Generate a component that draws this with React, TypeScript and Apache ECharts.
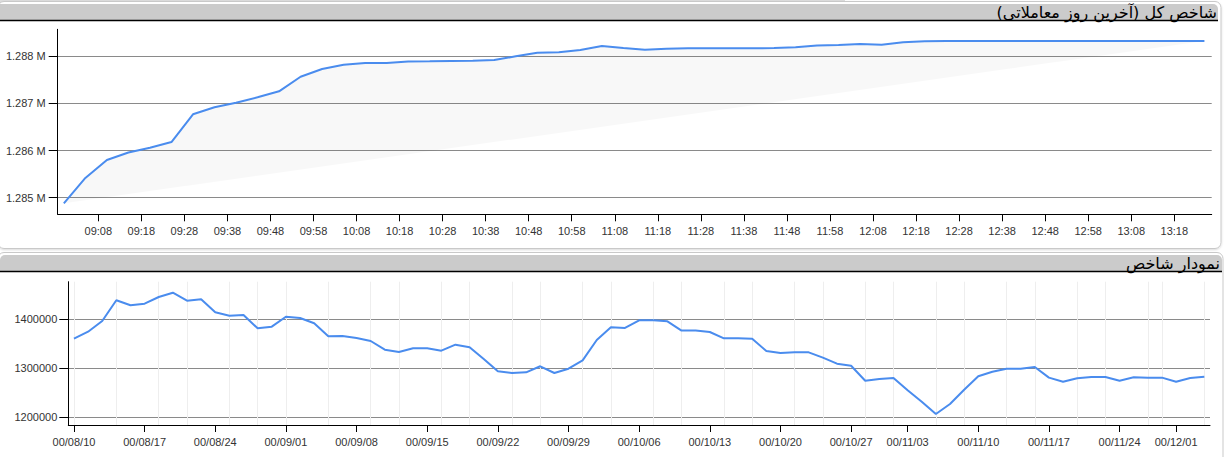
import React, { useEffect, useRef } from "react";
import * as echarts from "echarts";

// ---- Top chart: last trading day (intraday, every 5 minutes) ----
const intradayTimes = [
  "09:00", "09:05", "09:10", "09:15", "09:20", "09:25", "09:30", "09:35", "09:40", "09:45", "09:50", "09:55",
  "10:00", "10:05", "10:10", "10:15", "10:20", "10:25", "10:30", "10:35", "10:40", "10:45", "10:50", "10:55",
  "11:00", "11:05", "11:10", "11:15", "11:20", "11:25", "11:30", "11:35", "11:40", "11:45", "11:50", "11:55",
  "12:00", "12:05", "12:10", "12:15", "12:20", "12:25", "12:30", "12:35", "12:40", "12:45", "12:50", "12:55",
  "13:00", "13:05", "13:10", "13:15", "13:20", "13:25",
];
const intradayValues = [
  1284880, 1285420, 1285800, 1285960, 1286060, 1286180, 1286770, 1286920, 1287015, 1287130, 1287257, 1287567,
  1287730, 1287822, 1287858, 1287858, 1287890, 1287894, 1287900, 1287907, 1287921, 1288000, 1288076, 1288085,
  1288134, 1288219, 1288176, 1288140, 1288161, 1288170, 1288170, 1288172, 1288170, 1288176, 1288191, 1288228,
  1288240, 1288261, 1288245, 1288297, 1288318, 1288325, 1288327, 1288326, 1288325, 1288325, 1288325, 1288325,
  1288325, 1288325, 1288325, 1288325, 1288325, 1288325,
];
const intradayTickLabels = [
  "09:08", "09:18", "09:28", "09:38", "09:48", "09:58", "10:08", "10:18", "10:28", "10:38", "10:48", "10:58",
  "11:08", "11:18", "11:28", "11:38", "11:48", "11:58", "12:08", "12:18", "12:28", "12:38", "12:48", "12:58",
  "13:08", "13:18",
];
const intradayYTicks = [1285000, 1286000, 1287000, 1288000];
const intradayTitle = "شاخص کل (آخرین روز معاملاتی)";

// ---- Bottom chart: index history (one point per trading day) ----
const dailyValues = [
  1360400, 1374700, 1396500, 1438800, 1428600, 1431800, 1445500, 1454300, 1438000, 1440800,
  1414300, 1407300, 1408800, 1381600, 1384900, 1405300, 1402700, 1391800, 1365300, 1365900,
  1361800, 1355700, 1338000, 1333300, 1341000, 1340800, 1336000, 1348200, 1342900, 1319000,
  1293900, 1290400, 1291800, 1304100, 1290400, 1299200, 1316300, 1357800, 1383700, 1382300,
  1397900, 1397900, 1395900, 1376900, 1376900, 1374100, 1361200, 1361200, 1360500, 1335300,
  1331200, 1332600, 1332600, 1321700, 1309400, 1305300, 1274700, 1278200, 1280200, 1255100,
  1231800, 1206700, 1227100, 1256300, 1283700, 1293100, 1299200, 1299200, 1302700, 1280900,
  1272700, 1279600, 1282200, 1282200, 1274700, 1281600, 1280900, 1280900, 1272700, 1280200,
  1282900,
];
const dailyTickIndex = [0, 5, 10, 15, 20, 25, 30, 35, 40, 45, 50, 55, 59, 64, 69, 74, 78];
const dailyTickLabels = [
  "00/08/10", "00/08/17", "00/08/24", "00/09/01", "00/09/08", "00/09/15", "00/09/22", "00/09/29",
  "00/10/06", "00/10/13", "00/10/20", "00/10/27", "00/11/03", "00/11/10", "00/11/17", "00/11/24", "00/12/01",
];
const dailyGridIndex = [
  0, 3, 6, 8, 11, 13, 15, 18, 21, 23, 26, 28, 31, 33, 36, 38, 41, 43, 46, 48, 51, 53, 56, 58, 61, 63,
  66, 68, 71, 73, 76, 77, 80,
];
const dailyYTicks = [1200000, 1300000, 1400000];
const dailyTitle = "نمودار شاخص";

const toMin = (t: string) => {
  const [h, m] = t.split(":").map(Number);
  return h * 60 + m;
};
const fmtMin = (v: number) => {
  const h = Math.floor(v / 60);
  const m = Math.round(v - h * 60);
  return (h < 10 ? "0" : "") + h + ":" + (m < 10 ? "0" : "") + m;
};

const LINE = "#4a8cee";
const AXIS_FONT = "'Liberation Sans', Arial, sans-serif";
const TITLE_FONT = "Tahoma, 'DejaVu Sans', sans-serif";

export default function App() {
  const ref = useRef<HTMLDivElement>(null);
  useEffect(() => {
    document.body.style.margin = "0";
    const chart = echarts.init(ref.current!, null, { renderer: "svg" });
    const topData = intradayTimes.map((t, i) => [toMin(t), intradayValues[i]]);
    const bottomData = dailyValues.map((v, i) => [i, v]);
    const labelStyle = { color: "#333", fontSize: 11, fontFamily: AXIS_FONT };
    const option: any = {
      animation: false,
      backgroundColor: "#fff",
      graphic: [
        // top strip
        { type: "rect", z: -5, shape: { x: 0, y: 0, width: 845, height: 4, r: [0, 0, 3, 0] }, style: { fill: "#dedede" } },
        // top panel
        { type: "rect", z: -4, shape: { x: -2, y: 1.5, width: 1223, height: 247, r: 6 }, style: { fill: "#fff", stroke: "#c9c9c9", lineWidth: 1, shadowBlur: 2, shadowColor: "rgba(0,0,0,0.15)", shadowOffsetY: 1 } },
        { type: "rect", z: -3, shape: { x: 0, y: 4, width: 1218, height: 16, r: [0, 5, 0, 0] }, style: { fill: "#cbcbcb" } },
        { type: "line", z: -2, shape: { x1: 0, y1: 20.5, x2: 1218, y2: 20.5 }, style: { stroke: "#000", lineWidth: 1.5 } },
        { type: "text", z: 5, x: 1217, y: 20, style: { text: intradayTitle, font: "16px " + TITLE_FONT, fill: "#000", align: "right", verticalAlign: "bottom" } },
        // bottom panel
        { type: "rect", z: -4, shape: { x: -2, y: 252.5, width: 1225, height: 260, r: 6 }, style: { fill: "#fff", stroke: "#c9c9c9", lineWidth: 1 } },
        { type: "rect", z: -3, shape: { x: 0, y: 255, width: 1222, height: 16, r: [5, 5, 0, 0] }, style: { fill: "#cbcbcb" } },
        { type: "line", z: -2, shape: { x1: 0, y1: 271.5, x2: 1222, y2: 271.5 }, style: { stroke: "#000", lineWidth: 1.5 } },
        { type: "text", z: 5, x: 1220, y: 271, style: { text: dailyTitle, font: "16px " + TITLE_FONT, fill: "#000", align: "right", verticalAlign: "bottom" } },
      ],
      grid: [
        { left: 57.7, top: 29.3, width: 1154, height: 185 },
        { left: 68.3, top: 281.7, width: 1141.7, height: 143.3 },
      ],
      xAxis: [
        {
          gridIndex: 0, type: "value", min: 538.57, max: 806.69,
          axisLine: { onZero: false, lineStyle: { color: "#000", width: 1 } },
          axisTick: { show: true, length: 7, customValues: intradayTickLabels.map(toMin), lineStyle: { color: "#000" } },
          axisLabel: { ...labelStyle, margin: 11, customValues: intradayTickLabels.map(toMin), formatter: (v: number) => fmtMin(v) },
          splitLine: { show: false },
        },
        {
          gridIndex: 1, type: "value", min: -0.4, max: 80.4,
          axisLine: { onZero: false, lineStyle: { color: "#000", width: 1 } },
          axisTick: { show: true, length: 7, customValues: dailyTickIndex, lineStyle: { color: "#000" } },
          axisLabel: {
            ...labelStyle, margin: 11, customValues: dailyTickIndex,
            formatter: (v: number) => dailyTickLabels[dailyTickIndex.indexOf(Math.round(v))] ?? "",
          },
          splitLine: { show: false },
        },
        {
          gridIndex: 1, type: "value", min: -0.4, max: 80.4, position: "bottom",
          axisLine: { show: false, onZero: false },
          axisTick: { show: false, customValues: dailyGridIndex },
          axisLabel: { show: false, customValues: dailyGridIndex },
          splitLine: { show: true, lineStyle: { color: "#eeeeee", width: 1 } },
        },
      ],
      yAxis: [
        {
          gridIndex: 0, type: "value", min: 1284648, max: 1288573,
          axisLine: { show: true, onZero: false, lineStyle: { color: "#000", width: 1 } },
          axisTick: { show: true, length: 9, customValues: intradayYTicks, lineStyle: { color: "#000" } },
          axisLabel: { ...labelStyle, margin: 12, customValues: intradayYTicks, formatter: (v: number) => (v / 1e6).toFixed(3) + " M" },
          splitLine: { show: true, lineStyle: { color: "#8a8a8a", width: 1 } },
        },
        {
          gridIndex: 1, type: "value", min: 1184300, max: 1476700,
          axisLine: { show: true, onZero: false, lineStyle: { color: "#000", width: 1 } },
          axisTick: { show: true, length: 9, customValues: dailyYTicks, lineStyle: { color: "#000" } },
          axisLabel: { ...labelStyle, margin: 11, customValues: dailyYTicks, formatter: (v: number) => String(v) },
          splitLine: { show: true, lineStyle: { color: "#8a8a8a", width: 1 } },
        },
      ],
      series: [
        {
          type: "custom", xAxisIndex: 0, yAxisIndex: 0, z: 1, silent: true,
          data: [topData[0]], encode: { x: 0, y: 1 },
          renderItem: (_p: any, api: any) => ({
            type: "polygon",
            shape: { points: topData.map((d) => api.coord(d)) },
            style: { fill: "rgba(0,0,0,0.028)" },
          }),
        },
        {
          type: "line", xAxisIndex: 0, yAxisIndex: 0, z: 3, data: topData, showSymbol: false, silent: true,
          lineStyle: { color: LINE, width: 2 },
        },
        {
          type: "line", xAxisIndex: 1, yAxisIndex: 1, z: 3, data: bottomData, showSymbol: false, silent: true,
          lineStyle: { color: LINE, width: 2 },
        },
      ],
    };
    chart.setOption(option);
    return () => chart.dispose();
  }, []);
  return <div ref={ref} style={{ width: 1227, height: 457, position: "absolute", left: 0, top: 0 }} />;
}
